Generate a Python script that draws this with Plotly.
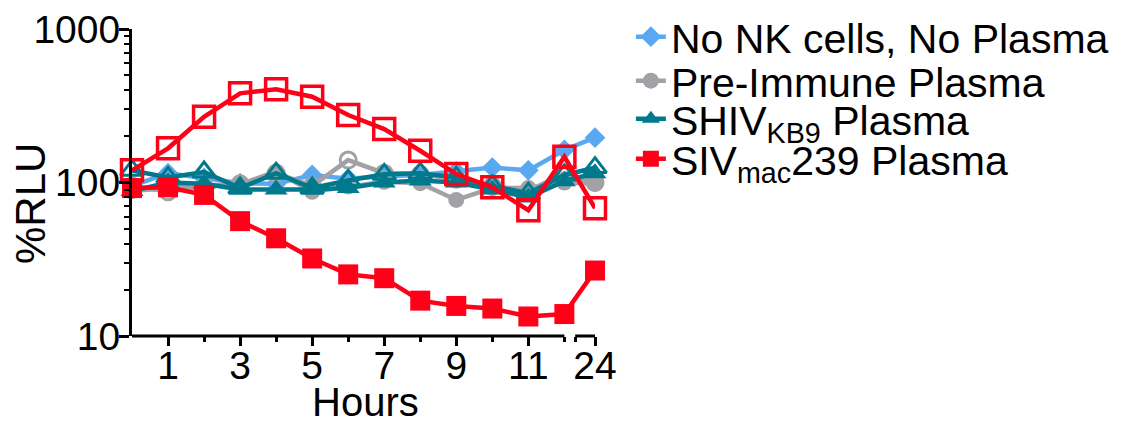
import plotly.graph_objects as go

# ---------------- data ----------------
hours = [0, 1, 2, 3, 4, 5, 6, 7, 8, 9, 10, 11, 12, 24]
hour_labels = ["1", "3", "5", "7", "9", "11", "24"]
label_hours = [1, 3, 5, 7, 9, 11, 24]

no_nk = [95, 115, 107, 99, 98, 112, 106, 110, 112, 118, 125, 120, 163, 196]
preimm_filled = [88, 92, 96, 97, 118, 87, 94, 101, 99, 77, 92, 92, 100, 98]
preimm_open = [95, 87, 94, 98, 115, 95, 140, 115, 113, 105, 95, 88, 115, 100]
shiv_filled = [88, 100, 98, 90, 90, 90, 92, 100, 103, 100, 90, 80, 102, 115]
shiv_open = [120, 108, 117, 92, 115, 92, 103, 113, 115, 108, 95, 85, 112, 125]
siv_filled = [92, 93, 83, 56, 43.3, 32, 25.2, 23.8, 17, 15.7, 15.1, 13.4, 13.9, 26.7]
siv_open = [120, 167, 268, 381, 405, 362, 275, 223, 161, 113.5, 93, 66, 147, 68]

# broken x axis: 24 h is drawn just after the break following 12 h
BREAK_START, BREAK_END, POS_24 = 12.0, 12.3, 12.85


def xpos(h):
    return h if h <= 12 else POS_24


xs = [xpos(h) for h in hours]

BLUE = "#5AA8F2"
GRAY = "#A2A2A6"
TEAL = "#00798C"
RED = "#FF0018"
FONT = "Liberation Sans, Arial, sans-serif"

fig = go.Figure()


def add(y, color, symbol, size, name, legend, show, lw_marker=0):
    fig.add_trace(go.Scatter(
        x=xs, y=y, mode="lines+markers", name=name,
        line=dict(color=color, width=4.5),
        marker=dict(symbol=symbol, size=size, color=color,
                    line=dict(color=color, width=lw_marker)),
        showlegend=show, legend=legend, cliponaxis=False,
    ))


add(no_nk, BLUE, "diamond", 16, "No NK cells, No Plasma", "legend", True)
add(preimm_filled, GRAY, "circle", 16, "Pre-Immune Plasma", "legend2", True)
add(preimm_open, GRAY, "circle-open", 16, "Pre-Immune Plasma (open)", "legend2", False, 3)
add(shiv_filled, TEAL, "triangle-up", 20, "SHIV<sub>KB9</sub> Plasma", "legend3", True)
add(shiv_open, TEAL, "triangle-up-open", 20, "SHIV open", "legend3", False, 3)
add(siv_filled, RED, "square", 20, "SIV<sub>mac</sub>239 Plasma", "legend4", True)
add(siv_open, RED, "square-open", 21, "SIV open", "legend4", False, 3.5)

# broken x-axis line segments
for x0, x1 in [(0, BREAK_START), (BREAK_END, POS_24)]:
    fig.add_shape(type="line", xref="x", yref="paper", x0=x0, x1=x1, y0=0, y1=0,
                  line=dict(color="black", width=3), layer="above")

legend_common = dict(font=dict(family=FONT, size=41, color="black"),
                     bgcolor="rgba(0,0,0,0)", borderwidth=0,
                     xanchor="left", yanchor="middle", x=1.0775)
ys_leg = [37, 81, 119, 159]
leg_y = [(336 - yy) / 307 for yy in ys_leg]

fig.update_layout(
    width=1141, height=421,
    margin=dict(l=132, r=546, t=29, b=85, autoexpand=False),
    plot_bgcolor="white", paper_bgcolor="white",
    font=dict(family=FONT, color="black"),
    legend=dict(**legend_common, y=leg_y[0]),
    legend2=dict(**legend_common, y=leg_y[1]),
    legend3=dict(**legend_common, y=leg_y[2]),
    legend4=dict(**legend_common, y=leg_y[3]),
    xaxis=dict(
        range=[0, POS_24], showgrid=False, zeroline=False, showline=False,
        tickmode="array", tickvals=[xpos(h) for h in label_hours], ticktext=hour_labels,
        ticks="outside", ticklen=9, tickwidth=3, tickcolor="black",
        ticklabelstandoff=-14,
        tickfont=dict(family=FONT, size=39, color="black"),
        minor=dict(tickvals=[2, 4, 6, 8, 10, BREAK_START, BREAK_END],
                   ticks="outside", ticklen=5, tickwidth=3, tickcolor="black"),
    ),
    yaxis=dict(
        type="log", range=[1, 3], showgrid=False, zeroline=False,
        showline=True, linewidth=3, linecolor="black",
        tickvals=[10, 100, 1000], ticktext=["10", "100", "1000"],
        ticks="outside", ticklen=10, tickwidth=3, tickcolor="black",
        ticklabelstandoff=-9,
        tickfont=dict(family=FONT, size=39, color="black"),
        minor=dict(ticks="outside", ticklen=5, tickwidth=2, tickcolor="black",
                   tickvals=[20, 30, 40, 50, 60, 70, 80, 90,
                             200, 300, 400, 500, 600, 700, 800, 900]),
    ),
    annotations=[
        dict(text="%RLU", xref="paper", yref="paper", x=(30 - 132) / 463,
             y=(336 - 204) / 307, textangle=-90, showarrow=False,
             xanchor="center", yanchor="middle",
             font=dict(family=FONT, size=42, color="black")),
        dict(text="Hours", xref="paper", yref="paper", x=(365 - 132) / 463,
             y=(336 - 402) / 307, showarrow=False,
             xanchor="center", yanchor="middle",
             font=dict(family=FONT, size=40, color="black")),
    ],
)

fig.write_html("out.html")
